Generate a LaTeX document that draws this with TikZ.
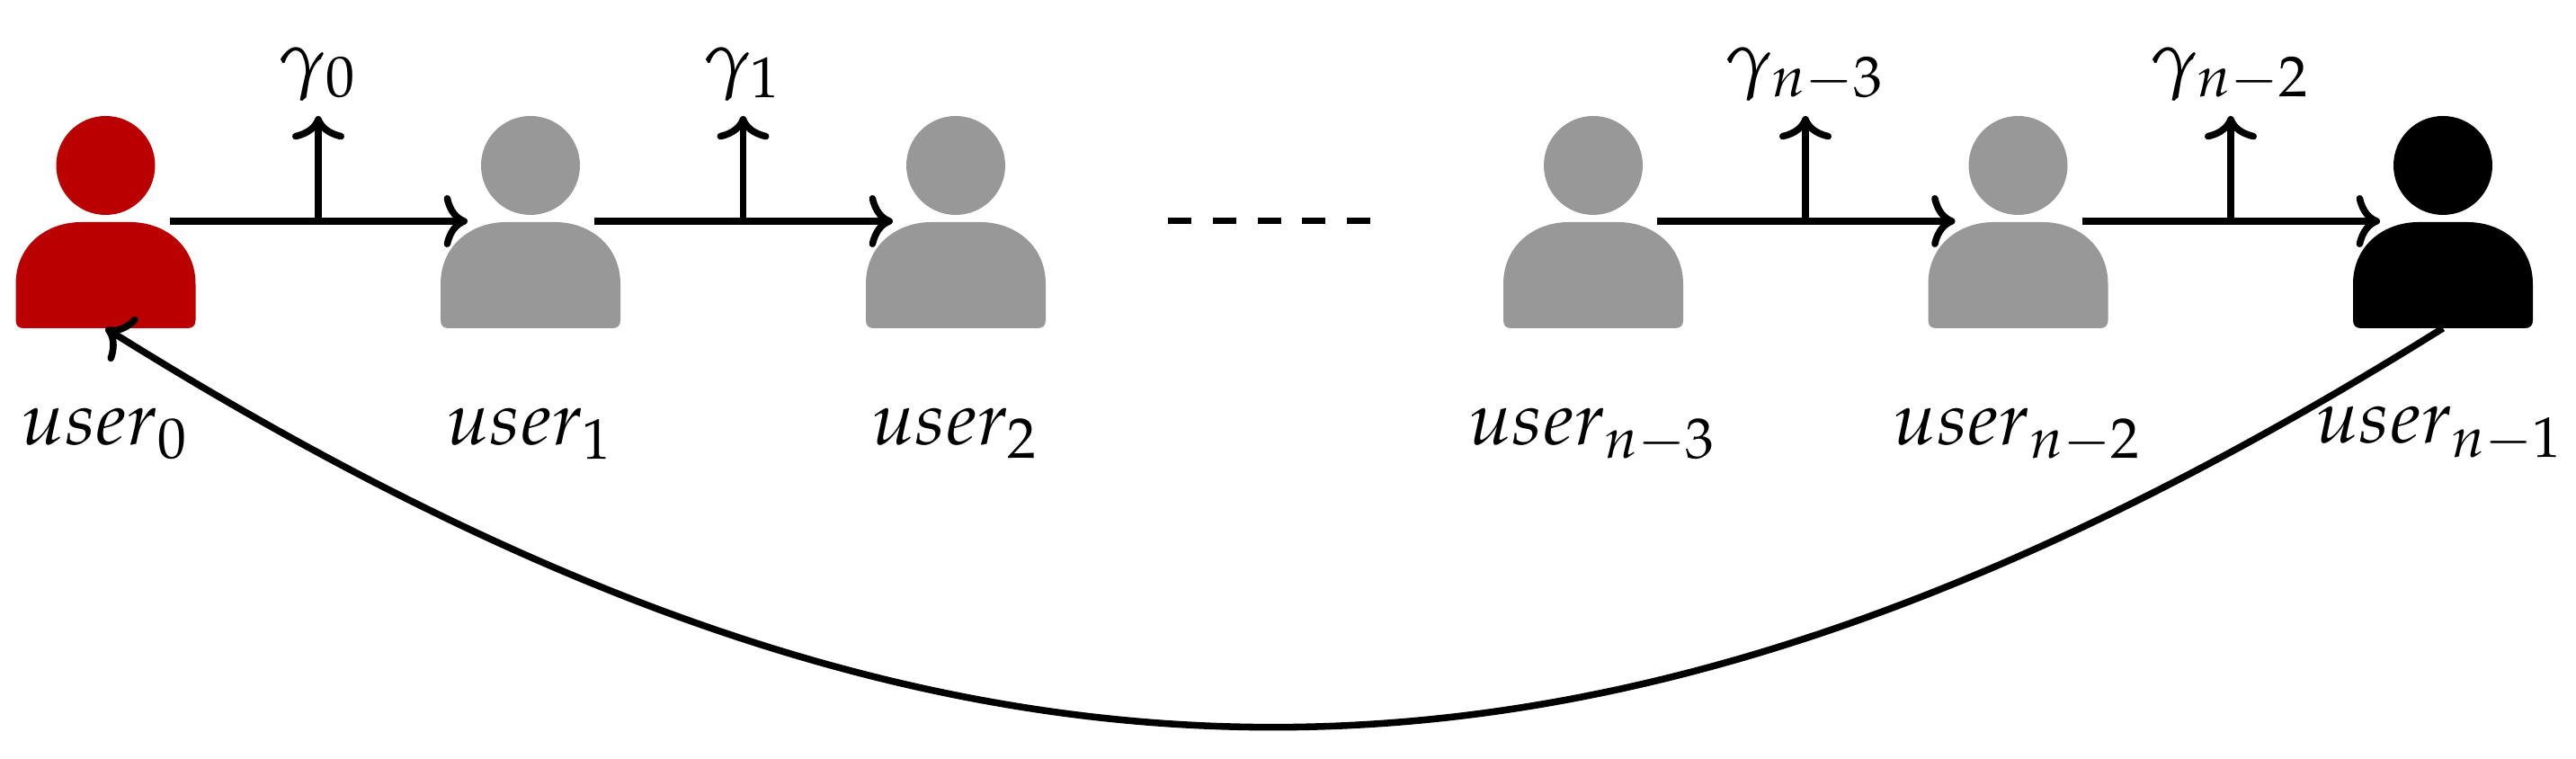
\documentclass[tikz,border=0pt]{standalone}
\usepackage{mathpazo}
\usetikzlibrary{arrows.meta,positioning}
\definecolor{userred}{HTML}{BA0000}
\definecolor{usergray}{HTML}{989898}
\tikzset{
  person/.pic={
    \fill (0,0.62) circle (0.55);
    \fill (-0.27,-0.01) .. controls (-0.66,-0.01) and (-1.00,-0.27) .. (-1.00,-0.70)
      -- (-1.00,-1.10) .. controls (-1.00,-1.16) and (-0.97,-1.19) .. (-0.91,-1.19)
      -- (0.91,-1.19) .. controls (0.97,-1.19) and (1.00,-1.16) .. (1.00,-1.10)
      -- (1.00,-0.70) .. controls (1.00,-0.27) and (0.66,-0.01) .. (0.27,-0.01) -- cycle;
    \coordinate (-out) at (0.71,0);
    \coordinate (-in) at (-0.70,0);
    \coordinate (-bot) at (0,-1.19);
  },
  link/.style={line width=2.15pt,-{Computer Modern Rightarrow[width=16.5pt,length=7.5pt]}},
  username/.style={scale=2.38,anchor=base},
  rate/.style={scale=2.4,anchor=south,inner sep=0pt,outer xsep=0pt,outer ysep=2.25pt,text depth=2pt}
}
\begin{document}
\begin{tikzpicture}
    \useasboundingbox (0,0) rectangle (28.65,8.44);
    % users
    \pic[userred] (u0) at (1.175,5.98) {person};
    \pic[usergray] (u1) at (5.90,5.98) {person};
    \pic[usergray] (u2) at (10.63,5.98) {person};
    \pic[usergray] (u3) at (17.72,5.98) {person};
    \pic[usergray] (u4) at (22.445,5.98) {person};
    \pic[black] (u5) at (27.17,5.98) {person};
    % names
    \node[username] (nu0) at (1.175,3.49) {$user_0$};
    \node[username] (nu1) at (5.90,3.49) {$user_1$};
    \node[username] (nu2) at (10.63,3.49) {$user_2$};
    \node[username] (nu3) at (17.72,3.49) {$user_{n-3}$};
    \node[username] (nu4) at (22.445,3.49) {$user_{n-2}$};
    \node[username] (nu5) at (27.14,3.51) {$user_{n-1}$};
    % rates
    \node[rate] (g0) at (3.54,7.15) {$\gamma_0$};
    \node[rate] (g1) at (8.265,7.15) {$\gamma_1$};
    \node[rate] (g3) at (20.08,7.15) {$\gamma_{n-3}$};
    \node[rate] (g4) at (24.81,7.15) {$\gamma_{n-2}$};
    \coordinate (b0) at (g0.south |- u0-out);
    \coordinate (b1) at (g1.south |- u0-out);
    \coordinate (b3) at (g3.south |- u0-out);
    \coordinate (b4) at (g4.south |- u0-out);
    \coordinate (d0) at (12.99,5.98);
    \coordinate (d1) at (15.24,5.98);
    \draw[link] (u0-out) -- (u1-in);
    \draw[link] (u1-out) -- (u2-in);
    \draw[link] (u3-out) -- (u4-in);
    \draw[link] (u4-out) -- (u5-in);
    \draw[link] (b0) -- (g0);
    \draw[link] (b1) -- (g1);
    \draw[link] (b3) -- (g3);
    \draw[link] (b4) -- (g4);
    \draw[line width=2pt,dash pattern=on 0.26cm off 0.2375cm] (d0) -- (d1);
    \draw[link] (u5-bot) to[out=212,in=-32,looseness=1.1] (u0-bot);
\end{tikzpicture}
\end{document}
